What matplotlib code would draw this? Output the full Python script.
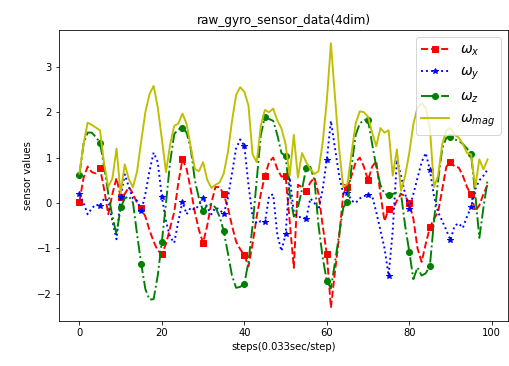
import matplotlib
matplotlib.use("Agg")
import matplotlib.pyplot as plt
import numpy as np

steps = list(range(100))

omega_x = [0.03, 0.55, 0.8, 0.68, 0.65, 0.77, 0.3, -0.25, 0.2, 0.55,
           0.13, 0.2, 0.35, 0.2, 0.0, -0.12, -0.3, -0.6, -0.85, -1.05,
           -1.12, -0.9, -0.55, -0.2, 0.45, 0.96, 0.75, 0.3, -0.2, -0.6,
           -0.88, -0.5, 0.0, 0.35, 0.35, 0.19, -0.1, -0.5, -0.85, -1.02,
           -1.15, -1.4, -0.9, -0.3, 0.2, 0.6, 0.9, 1.0, 0.75, 0.58,
           0.6, -0.4, -1.43, 0.4, 0.35, 0.26, 0.45, 0.56, 0.2, -0.5,
           -1.12, -2.31, -1.5, -0.75, 0.2, 0.35, 0.6, 0.9, 1.0, 0.8,
           0.5, 0.8, 0.92, 0.2, -0.4, -0.13, -0.15, 0.05, 0.2, 0.15,
           0.0, -0.35, -1.0, -1.3, -0.9, -0.54, -0.35, -0.2, 0.3, 0.8,
           0.91, 0.8, 0.78, 0.6, 0.35, 0.19, -0.18, -0.05, 0.2, 0.4]

omega_y = [0.19, 0.0, -0.25, -0.12, -0.03, -0.07, 0.1, 0.05, -0.4, -0.8,
           0.13, 0.63, 0.35, 0.1, 0.05, -0.18, 0.2, 0.7, 1.11, 0.9,
           0.13, -0.4, -0.75, -0.88, -0.4, 0.03, -0.25, -0.1, -0.15, -0.05,
           0.12, -0.1, -0.25, -0.1, -0.15, -0.25, 0.1, 0.65, 1.2, 1.4,
           1.26, 0.4, -0.3, -0.45, -0.4, -0.43, 0.15, 0.19, -0.7, -1.06,
           -0.69, 0.56, -0.2, -0.32, -0.3, -0.36, 0.1, 0.0, -0.15, 0.3,
           0.95, 1.81, 1.2, 0.6, 0.2, 0.23, 0.05, 0.0, 0.1, 0.15,
           0.18, 0.15, -0.2, -0.6, -1.0, -1.6, -0.6, 0.95, 0.6, 0.2,
           -0.14, 0.2, 0.55, 0.9, 1.1, 0.73, 0.15, -0.2, -0.4, -0.6,
           -0.82, -0.5, -0.45, -0.55, -0.3, -0.1, 0.3, 0.5, 0.6, 0.74]

omega_z = [0.62, 1.3, 1.55, 1.55, 1.45, 1.33, 0.8, 0.2, -0.3, -0.69,
           -0.1, 0.1, 0.15, 0.0, -0.7, -1.35, -1.9, -2.13, -2.12, -1.6,
           -0.85, 0.0, 0.9, 1.52, 1.62, 1.66, 1.55, 1.2, 0.5, 0.1,
           -0.18, -0.05, -0.03, -0.1, -0.3, -0.62, -1.1, -1.6, -1.87, -1.85,
           -1.78, -1.3, -0.5, 0.5, 1.5, 1.9, 1.85, 1.81, 1.5, 1.1,
           1.04, 0.2, -0.3, -0.1, 0.3, 0.77, 0.8, 0.5, -0.5, -1.2,
           -1.72, -1.88, -1.3, -0.69, -0.1, 0.03, 0.8, 1.5, 1.75, 1.83,
           1.83, 1.3, 0.8, 0.4, 0.2, 0.17, 0.2, 0.23, 0.2, -0.5,
           -1.07, -1.68, -1.42, -1.6, -1.55, -1.39, -0.4, 0.5, 1.2, 1.44,
           1.46, 1.4, 1.37, 1.3, 1.2, 1.07, 0.2, -0.77, -0.1, 0.5]

omega_mag = [0.65, 1.3, 1.77, 1.72, 1.66, 1.6, 0.86, 0.35, 0.54, 1.2,
             0.21, 0.85, 0.52, 0.35, 0.7, 1.37, 2.0, 2.4, 2.58, 2.11,
             1.41, 0.68, 1.29, 1.7, 1.75, 1.97, 1.74, 1.24, 0.75, 0.7,
             0.9, 0.51, 0.33, 0.4, 0.45, 0.65, 1.11, 1.8, 2.38, 2.55,
             2.45, 2.15, 1.07, 0.9, 1.7, 2.05, 2.0, 2.08, 1.82, 1.64,
             1.3, 0.6, 1.5, 0.56, 1.1, 0.9, 0.75, 0.64, 0.7, 1.33,
             2.25, 3.52, 2.32, 1.18, 0.35, 0.42, 1.1, 1.75, 2.02, 2.0,
             1.9, 1.55, 1.25, 1.65, 1.55, 1.6, 0.6, 1.18, 0.27, 0.6,
             1.1, 1.74, 2.1, 2.2, 2.1, 1.66, 0.35, 0.6, 1.3, 1.6,
             1.65, 1.5, 1.44, 1.3, 1.1, 1.07, 0.35, 0.96, 0.74, 0.96]

labels = [r'$\omega_x$', r'$\omega_y$', r'$\omega_z$', r'$\omega_{mag}$']

fig = plt.figure(figsize=(509 / 72, 366 / 72), dpi=72)
ax = fig.add_axes([59 / 509, 45 / 366, 449 / 509, 291 / 366])

lw = 1.9
ax.plot(steps, omega_x, 'r--', marker='s', markevery=5, lw=lw, label=labels[0])
ax.plot(steps, omega_y, 'b:', marker='*', markevery=5, lw=lw, label=labels[1])
ax.plot(steps, omega_z, 'g-.', marker='o', markevery=5, lw=lw, label=labels[2])
ax.plot(steps, omega_mag, 'y-', lw=lw, label=labels[3])

ax.set_title('raw_gyro_sensor_data(4dim)')
ax.set_xlabel('steps(0.033sec/step)')
ax.set_ylabel('sensor values')
ax.legend(loc='upper right', fontsize=14)

fig.savefig('out.png', dpi=72)
